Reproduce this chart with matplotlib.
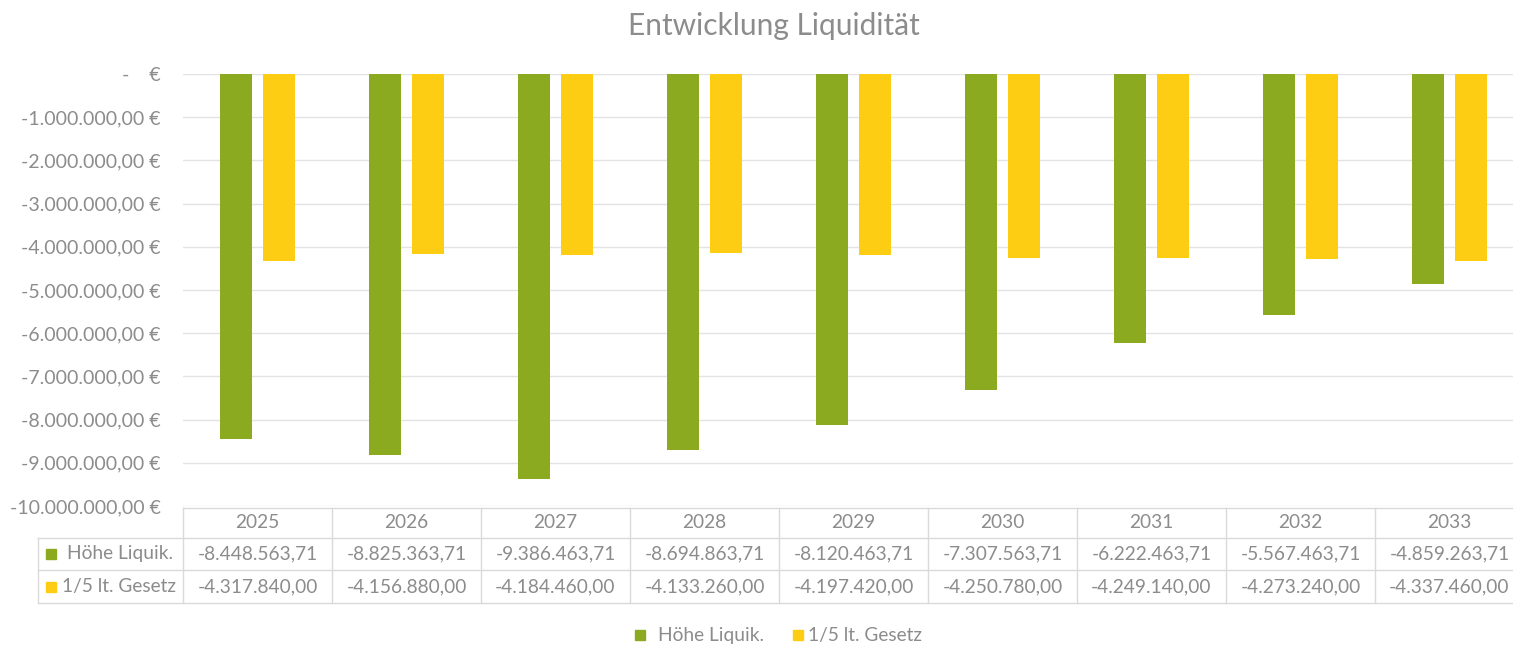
import matplotlib
matplotlib.use("Agg")
import matplotlib.pyplot as plt
from matplotlib.ticker import FuncFormatter, MultipleLocator
from matplotlib.transforms import blended_transform_factory
from matplotlib.patches import Rectangle

years = ["2025", "2026", "2027", "2028", "2029", "2030", "2031", "2032", "2033"]
hoehe_liquik = [-8448563.71, -8825363.71, -9386463.71, -8694863.71, -8120463.71,
                -7307563.71, -6222463.71, -5567463.71, -4859263.71]
gesetz = [-4317840.00, -4156880.00, -4184460.00, -4133260.00, -4197420.00,
          -4250780.00, -4249140.00, -4273240.00, -4337460.00]
series_names = ["Höhe Liquik.", "1/5 lt. Gesetz"]
colors = ["#8BAA1F", "#FDCD13"]
title = "Entwicklung Liquidität"

plt.rcParams['font.family'] = ['Lato', 'DejaVu Sans']
txt = "#8C8C8C"
grid = "#E3E3E3"

W, H = 1513, 649
fig = plt.figure(figsize=(W / 100, H / 100), dpi=100)
ax_l, ax_r = 183, 1524
ax = fig.add_axes([ax_l / W, 1 - 506 / H, (ax_r - ax_l) / W, (506 - 74) / H])

def de_num(v):
    s = f"{abs(v):,.2f}"
    s = s.replace(",", "X").replace(".", ",").replace("X", ".")
    return ("-" if v < 0 else "") + s

x = list(range(len(years)))
bw = 0.22
off = 0.144
ax.bar([i - off for i in x], hoehe_liquik, width=bw, color=colors[0], zorder=3)
ax.bar([i + off for i in x], gesetz, width=bw, color=colors[1], zorder=3)

ax.set_xlim(-0.5, len(years) - 0.5)
ax.set_ylim(-10_000_000, 0)
ax.yaxis.set_major_locator(MultipleLocator(1_000_000))

def yfmt(v, pos):
    if abs(v) < 1:
        return "-    €"
    return de_num(v) + " €"

ax.yaxis.set_major_formatter(FuncFormatter(yfmt))
ax.tick_params(axis='y', length=0, labelsize=14, labelcolor=txt, pad=16)
ax.tick_params(axis='x', length=0, labelbottom=False)
ax.grid(axis='y', color=grid, linewidth=1, zorder=0)
for s in ax.spines.values():
    s.set_visible(False)

fig.text(774 / W, 1 - 26 / H, title, ha='center', va='center', fontsize=21.5, color="#8C8C8C")

# data table
tr = blended_transform_factory(ax.transData, fig.transFigure)
trf = fig.transFigure
rows_y = [508, 538, 570, 603]  # pixel boundaries
def fy(p):
    return 1 - p / H

fs_tab = 13.8
line_kw = dict(color="#DADADA", linewidth=1, clip_on=False)
fig.add_artist(plt.Line2D([ax_l / W, 1], [fy(rows_y[0])] * 2, transform=trf, **line_kw))
for yy in rows_y[1:]:
    fig.add_artist(plt.Line2D([38 / W, 1], [fy(yy)] * 2, transform=trf, **line_kw))
fig.add_artist(plt.Line2D([38 / W, 38 / W], [fy(rows_y[1]), fy(rows_y[3])], transform=trf, **line_kw))
for i in range(len(years)):
    xb = i - 0.5
    fig.add_artist(plt.Line2D([xb, xb], [fy(rows_y[0]), fy(rows_y[3])], transform=tr, **line_kw))

for i, yr in enumerate(years):
    fig.text(i, fy((rows_y[0] + rows_y[1]) / 2), yr, transform=tr, ha='center', va='center',
             fontsize=fs_tab, color=txt)
    fig.text(i, fy((rows_y[1] + rows_y[2]) / 2), de_num(hoehe_liquik[i]), transform=tr,
             ha='center', va='center', fontsize=fs_tab, color=txt)
    fig.text(i, fy((rows_y[2] + rows_y[3]) / 2), de_num(gesetz[i]), transform=tr,
             ha='center', va='center', fontsize=fs_tab, color=txt)

label_x = [67, 62]
sq_x = [46, 46]
for r, (name, c) in enumerate(zip(series_names, colors)):
    yc = (rows_y[r + 1] + rows_y[r + 2]) / 2
    fig.add_artist(Rectangle((sq_x[r] / W, fy(yc + 5)), 10 / W, 10 / H, transform=trf,
                             color=c, clip_on=False))
    fig.text(label_x[r] / W, fy(yc), name, ha='left', va='center', fontsize=fs_tab, color=txt)

# legend
leg_items = [(635, 658, series_names[0], colors[0]), (793, 808, series_names[1], colors[1])]
for px, tx, name, c in leg_items:
    fig.add_artist(Rectangle((px / W, fy(640)), 10 / W, 10 / H, transform=trf, color=c))
    fig.text(tx / W, fy(635), name, ha='left', va='center', fontsize=fs_tab, color=txt)

fig.savefig("out.png", dpi=100, facecolor="white")
